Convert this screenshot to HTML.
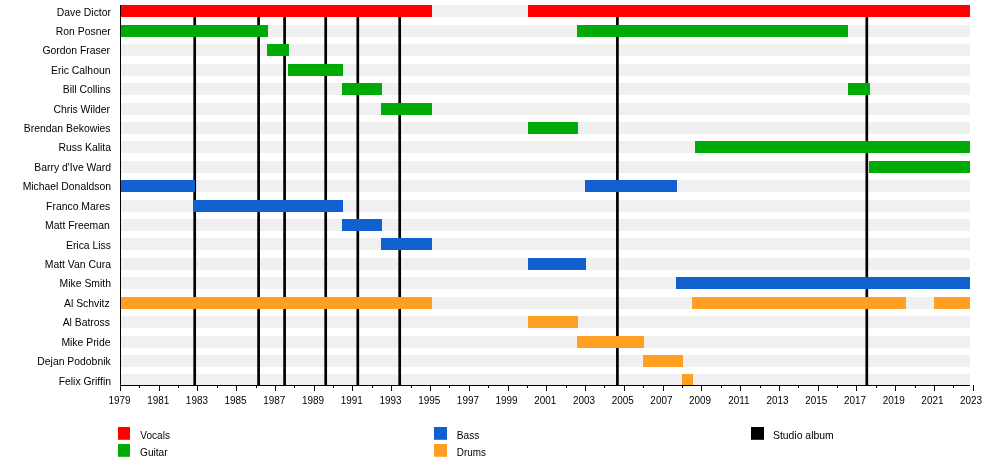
<!DOCTYPE html>
<html><head><meta charset="utf-8"><title>Timeline</title>
<style>
html,body{margin:0;padding:0;background:#fff;}
body{width:1000px;height:475px;overflow:hidden;font-family:"Liberation Sans",sans-serif;}
svg{display:block;}
svg{will-change:transform;}
text{font-family:"Liberation Sans",sans-serif;font-size:10.4px;fill:#000;}
</style></head><body>
<svg width="1000" height="475" viewBox="0 0 1000 475">
<rect width="1000" height="475" fill="#fff"/>

<g fill="#f0f0f0" shape-rendering="crispEdges">
<rect x="120" y="5" width="850" height="12"/>
<rect x="120" y="25" width="850" height="12"/>
<rect x="120" y="44" width="850" height="12"/>
<rect x="120" y="64" width="850" height="12"/>
<rect x="120" y="83" width="850" height="12"/>
<rect x="120" y="103" width="850" height="12"/>
<rect x="120" y="122" width="850" height="12"/>
<rect x="120" y="141" width="850" height="12"/>
<rect x="120" y="161" width="850" height="12"/>
<rect x="120" y="180" width="850" height="12"/>
<rect x="120" y="200" width="850" height="12"/>
<rect x="120" y="219" width="850" height="12"/>
<rect x="120" y="238" width="850" height="12"/>
<rect x="120" y="258" width="850" height="12"/>
<rect x="120" y="277" width="850" height="12"/>
<rect x="120" y="297" width="850" height="12"/>
<rect x="120" y="316" width="850" height="12"/>
<rect x="120" y="336" width="850" height="12"/>
<rect x="120" y="355" width="850" height="12"/>
<rect x="120" y="374" width="850" height="12"/>
</g>
<g stroke="#000" stroke-width="2.7">
<line x1="194.7" y1="5" x2="194.7" y2="385"/>
<line x1="258.6" y1="5" x2="258.6" y2="385"/>
<line x1="284.6" y1="5" x2="284.6" y2="385"/>
<line x1="325.7" y1="5" x2="325.7" y2="385"/>
<line x1="357.8" y1="5" x2="357.8" y2="385"/>
<line x1="399.7" y1="5" x2="399.7" y2="385"/>
<line x1="617.4" y1="5" x2="617.4" y2="385"/>
<line x1="866.8" y1="5" x2="866.8" y2="385"/>
</g>
<g shape-rendering="crispEdges">
<rect x="120" y="5" width="312" height="12" fill="#ff0000"/>
<rect x="528" y="5" width="442" height="12" fill="#ff0000"/>
<rect x="120" y="25" width="148" height="12" fill="#00ab08"/>
<rect x="577" y="25" width="271" height="12" fill="#00ab08"/>
<rect x="267" y="44" width="22" height="12" fill="#00ab08"/>
<rect x="288" y="64" width="55" height="12" fill="#00ab08"/>
<rect x="342" y="83" width="40" height="12" fill="#00ab08"/>
<rect x="848" y="83" width="22" height="12" fill="#00ab08"/>
<rect x="381" y="103" width="51" height="12" fill="#00ab08"/>
<rect x="528" y="122" width="50" height="12" fill="#00ab08"/>
<rect x="695" y="141" width="275" height="12" fill="#00ab08"/>
<rect x="869" y="161" width="101" height="12" fill="#00ab08"/>
<rect x="120" y="180" width="75" height="12" fill="#1060d0"/>
<rect x="585" y="180" width="92" height="12" fill="#1060d0"/>
<rect x="194" y="200" width="149" height="12" fill="#1060d0"/>
<rect x="342" y="219" width="40" height="12" fill="#1060d0"/>
<rect x="381" y="238" width="51" height="12" fill="#1060d0"/>
<rect x="528" y="258" width="58" height="12" fill="#1060d0"/>
<rect x="676" y="277" width="294" height="12" fill="#1060d0"/>
<rect x="120" y="297" width="312" height="12" fill="#ffa025"/>
<rect x="692" y="297" width="214" height="12" fill="#ffa025"/>
<rect x="934" y="297" width="36" height="12" fill="#ffa025"/>
<rect x="528" y="316" width="50" height="12" fill="#ffa025"/>
<rect x="577" y="336" width="67" height="12" fill="#ffa025"/>
<rect x="643" y="355" width="40" height="12" fill="#ffa025"/>
<rect x="682" y="374" width="11" height="12" fill="#ffa025"/>
</g>
<g fill="#000" shape-rendering="crispEdges">
<rect x="120" y="5" width="1" height="381"/>
<rect x="120" y="385" width="850" height="1"/>
</g>
<g fill="#000" shape-rendering="crispEdges">
<rect x="120" y="385" width="1" height="6"/>
<rect x="139" y="385" width="1" height="3"/>
<rect x="159" y="385" width="1" height="6"/>
<rect x="178" y="385" width="1" height="3"/>
<rect x="197" y="385" width="1" height="6"/>
<rect x="217" y="385" width="1" height="3"/>
<rect x="236" y="385" width="1" height="6"/>
<rect x="256" y="385" width="1" height="3"/>
<rect x="275" y="385" width="1" height="6"/>
<rect x="294" y="385" width="1" height="3"/>
<rect x="314" y="385" width="1" height="6"/>
<rect x="333" y="385" width="1" height="3"/>
<rect x="352" y="385" width="1" height="6"/>
<rect x="372" y="385" width="1" height="3"/>
<rect x="391" y="385" width="1" height="6"/>
<rect x="411" y="385" width="1" height="3"/>
<rect x="430" y="385" width="1" height="6"/>
<rect x="449" y="385" width="1" height="3"/>
<rect x="469" y="385" width="1" height="6"/>
<rect x="488" y="385" width="1" height="3"/>
<rect x="508" y="385" width="1" height="6"/>
<rect x="527" y="385" width="1" height="3"/>
<rect x="546" y="385" width="1" height="6"/>
<rect x="566" y="385" width="1" height="3"/>
<rect x="585" y="385" width="1" height="6"/>
<rect x="604" y="385" width="1" height="3"/>
<rect x="624" y="385" width="1" height="6"/>
<rect x="643" y="385" width="1" height="3"/>
<rect x="663" y="385" width="1" height="6"/>
<rect x="682" y="385" width="1" height="3"/>
<rect x="701" y="385" width="1" height="6"/>
<rect x="721" y="385" width="1" height="3"/>
<rect x="740" y="385" width="1" height="6"/>
<rect x="760" y="385" width="1" height="3"/>
<rect x="779" y="385" width="1" height="6"/>
<rect x="798" y="385" width="1" height="3"/>
<rect x="818" y="385" width="1" height="6"/>
<rect x="837" y="385" width="1" height="3"/>
<rect x="856" y="385" width="1" height="6"/>
<rect x="876" y="385" width="1" height="3"/>
<rect x="895" y="385" width="1" height="6"/>
<rect x="915" y="385" width="1" height="3"/>
<rect x="934" y="385" width="1" height="6"/>
<rect x="953" y="385" width="1" height="3"/>
<rect x="973" y="385" width="1" height="6"/>
</g>
<g text-anchor="middle">
<text transform="translate(119.5,403.6) scale(0.957,1)">1979</text>
<text transform="translate(158.2,403.6) scale(0.957,1)">1981</text>
<text transform="translate(196.9,403.6) scale(0.957,1)">1983</text>
<text transform="translate(235.6,403.6) scale(0.957,1)">1985</text>
<text transform="translate(274.3,403.6) scale(0.957,1)">1987</text>
<text transform="translate(313.1,403.6) scale(0.957,1)">1989</text>
<text transform="translate(351.8,403.6) scale(0.957,1)">1991</text>
<text transform="translate(390.5,403.6) scale(0.957,1)">1993</text>
<text transform="translate(429.2,403.6) scale(0.957,1)">1995</text>
<text transform="translate(467.9,403.6) scale(0.957,1)">1997</text>
<text transform="translate(506.6,403.6) scale(0.957,1)">1999</text>
<text transform="translate(545.3,403.6) scale(0.957,1)">2001</text>
<text transform="translate(584.0,403.6) scale(0.957,1)">2003</text>
<text transform="translate(622.7,403.6) scale(0.957,1)">2005</text>
<text transform="translate(661.4,403.6) scale(0.957,1)">2007</text>
<text transform="translate(700.1,403.6) scale(0.957,1)">2009</text>
<text transform="translate(738.9,403.6) scale(0.957,1)">2011</text>
<text transform="translate(777.6,403.6) scale(0.957,1)">2013</text>
<text transform="translate(816.3,403.6) scale(0.957,1)">2015</text>
<text transform="translate(855.0,403.6) scale(0.957,1)">2017</text>
<text transform="translate(893.7,403.6) scale(0.957,1)">2019</text>
<text transform="translate(932.4,403.6) scale(0.957,1)">2021</text>
<text transform="translate(971.1,403.6) scale(0.957,1)">2023</text>
</g>
<g text-anchor="end">
<text x="111.0" y="15.5">Dave Dictor</text>
<text x="110.7" y="34.9">Ron Posner</text>
<text x="110.0" y="54.3">Gordon Fraser</text>
<text x="110.5" y="73.8">Eric Calhoun</text>
<text x="110.7" y="93.2">Bill Collins</text>
<text x="110.0" y="112.6">Chris Wilder</text>
<text x="110.5" y="132.0">Brendan Bekowies</text>
<text x="111.0" y="151.4">Russ Kalita</text>
<text x="111.0" y="170.9">Barry d'Ive Ward</text>
<text x="111.0" y="190.3">Michael Donaldson</text>
<text x="110.2" y="209.7">Franco Mares</text>
<text x="109.8" y="229.1">Matt Freeman</text>
<text x="111.0" y="248.5">Erica Liss</text>
<text x="111.0" y="268.0">Matt Van Cura</text>
<text x="111.0" y="287.4">Mike Smith</text>
<text x="109.7" y="306.8">Al Schvitz</text>
<text x="110.0" y="326.2">Al Batross</text>
<text x="110.5" y="345.6">Mike Pride</text>
<text x="110.7" y="365.1">Dejan Podobnik</text>
<text x="111.0" y="384.5">Felix Griffin</text>
</g>
<rect x="118" y="427" width="12" height="12.8" fill="#ff0000"/>
<text transform="translate(140.3,438.7) scale(0.967,1)">Vocals</text>
<rect x="118" y="444" width="12" height="12.8" fill="#00ab08"/>
<text transform="translate(140.0,455.7) scale(0.975,1)">Guitar</text>
<rect x="434" y="427" width="13" height="12.8" fill="#1060d0"/>
<text transform="translate(456.8,438.7) scale(0.98,1)">Bass</text>
<rect x="434" y="444" width="13" height="12.8" fill="#ffa025"/>
<text transform="translate(456.8,455.7) scale(0.95,1)">Drums</text>
<rect x="751" y="427" width="13" height="12.8" fill="#000"/>
<text transform="translate(773.0,438.7) scale(1.0,1)">Studio album</text>
</svg></body></html>
